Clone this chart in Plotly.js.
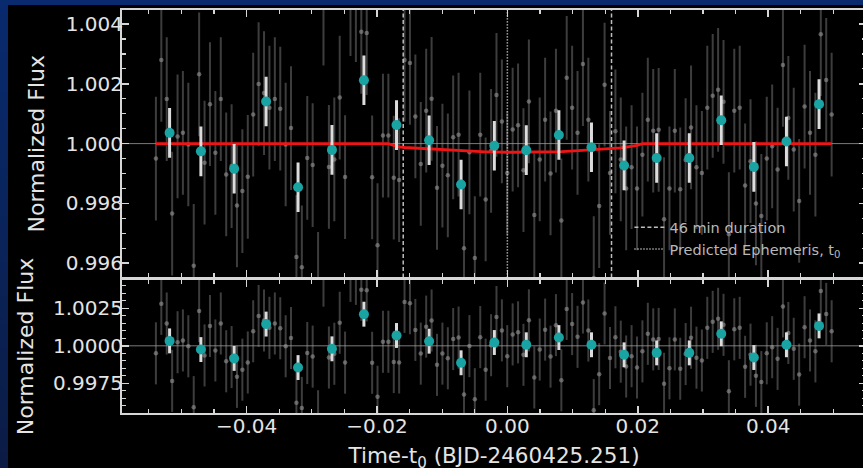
<!DOCTYPE html>
<html><head><meta charset="utf-8">
<script src="https://cdn.plot.ly/plotly-3.0.1.min.js"></script>
<style>
html,body{margin:0;padding:0;width:863px;height:468px;overflow:hidden;
background:linear-gradient(to bottom,#082a6e 0%,#0a2358 55%,#0b1b44 100%);}
#chart{position:absolute;left:8px;top:5px;width:862px;height:475px;}
</style></head><body><div id="chart"></div>
<script>
// Time - t0 (days) of each exposure
const time = [
-0.05390,-0.05307,-0.05224,-0.05141,-0.05058,-0.04976,-0.04893,-0.04810,-0.04727,-0.04644,
-0.04561,-0.04478,-0.04395,-0.04312,-0.04229,-0.04147,-0.04064,-0.03981,-0.03898,-0.03815,
-0.03732,-0.03649,-0.03566,-0.03483,-0.03400,-0.03318,-0.03235,-0.03152,-0.03069,-0.02986,
-0.02903,-0.02820,-0.02737,-0.02654,-0.02571,-0.02489,-0.02406,-0.02323,-0.02240,-0.02157,
-0.02074,-0.01991,-0.01908,-0.01825,-0.01742,-0.01660,-0.01577,-0.01494,-0.01411,-0.01328,
-0.01245,-0.01162,-0.01079,-0.00996,-0.00913,-0.00831,-0.00748,-0.00665,-0.00582,-0.00499,
-0.00416,-0.00333,-0.00250,-0.00167,-0.00084,-0.00002, 0.00081, 0.00164, 0.00247, 0.00330,
 0.00413, 0.00496, 0.00579, 0.00662, 0.00745, 0.00828, 0.00910, 0.00993, 0.01076, 0.01159,
 0.01242, 0.01325, 0.01408, 0.01491, 0.01574, 0.01657, 0.01739, 0.01822, 0.01905, 0.01988,
 0.02071, 0.02154, 0.02237, 0.02320, 0.02403, 0.02486, 0.02568, 0.02651, 0.02734, 0.02817,
 0.02900, 0.02983, 0.03066, 0.03149, 0.03232, 0.03315, 0.03397, 0.03480, 0.03563, 0.03646,
 0.03729, 0.03812, 0.03895, 0.03978, 0.04061, 0.04144, 0.04226, 0.04309, 0.04392, 0.04475,
 0.04558, 0.04641, 0.04724, 0.04807, 0.04890, 0.04973];
// unbinned normalized flux
const flux = [
0.99950,1.00280,1.00149,0.99766,1.00024,1.00036, 0.99997,0.99591,1.00232,0.99936,1.00132,0.99969,
1.00149,0.99897,0.99925,0.99793,0.99841,0.99889, 1.00097,1.00199,1.00169,1.00120,1.00149,1.00117,
0.99997,1.00052,0.99621,0.99586,0.99952,0.99928, 0.99497,1.00468,0.99922,0.99947,1.00154,0.99888,
1.00500,1.00480,1.00374,1.00370,0.99887,0.99660, 1.00027,1.00027,0.99886,0.99878,1.00280,1.00270,
1.00091,0.99932,1.00110,1.00150,0.99852,0.99926, 0.99894,1.00021,1.00030,0.99650,0.99971,0.99617,
1.00030,0.99813,0.99976,1.00163,1.00074,0.99902, 1.00047,1.00061,0.99911,1.00141,0.99761,0.99947,
1.00080,0.99900,1.00110,0.99743,1.00220,1.00120, 1.00036,1.00266,1.00080,0.99550,0.99791,1.00197,
0.99902,1.00041,0.99947,0.99850,0.99921,0.99850, 0.99963,1.00080,1.00043,1.00046,0.99747,0.99850,
1.00043,0.99847,0.99945,1.00054,0.99921,0.99902, 1.00120,1.00160,1.00180,1.00140,0.99697,1.00110,
1.00120,0.99860,0.99941,0.99800,0.99758,0.99950, 0.99991,0.99913,1.00263,1.00086,0.99980,0.99808,
1.00124,1.00036,0.99963,1.00366,1.00213,1.00097];
// transit model evaluated at each exposure
const model = [
1,1,1,1,1,1,1,1,1,1, 1,1,1,1,1,1,1,1,1,1, 1,1,1,1,1,1,1,1,1,1, 1,1,1,1,1,1,1,1,1,1,
1,1,1,1,0.99994,0.99989,0.99987,0.99986,0.99985,0.99984,
0.99982,0.99981,0.99979,0.99978,0.99977,0.99976,0.99975,0.99974,0.99973,0.99973,
0.99972,0.99972,0.99972,0.99971,0.99971,0.99971,0.99971,0.99971,0.99971,0.99971,
0.99972,0.99972,0.99972,0.99972,0.99972,0.99973,0.99974,0.99975,0.99976,0.99977,
0.99978,0.99979,0.99980,0.99981,0.99983,0.99984,0.99986,0.99988,0.99990,0.99994,
1,1,1,1,1,1,1,1,1,1, 1,1,1,1,1,1,1,1,1,1, 1,1,1,1,1,1,1,1,1,1, 1,1,1,1,1,1];
// binned (6 exposures) data
const binTime = [-0.0518,-0.0470,-0.0419,-0.0370,-0.0321,-0.0269,-0.0220,-0.0170,-0.0120,-0.0071,
 -0.0020,0.0029,0.0079,0.0129,0.0179,0.0229,0.0279,0.0328,0.0378,0.0428,0.0478];
const binFlux = [1.00036,0.99974,0.99916,1.00141,0.99854,0.99979,1.00212,1.00062,1.00011,0.99863,
 0.99993,0.99978,1.00029,0.99988,0.99927,0.99952,0.99952,1.00078,0.99922,1.00007,1.00132];
const binResid = [1.00033,0.99975,0.99916,1.00145,0.99855,0.99980,1.00211,1.00069,1.00031,0.99887,
 1.00022,1.00007,1.00055,1.00007,0.99940,0.99953,0.99953,1.00080,0.99922,1.00007,1.00133];
const rawErr = 0.00207;
const binErr = 0.00083;
const durationMin = 46;
const t0 = 0.0;
const baseline = 1.0;
const xTickVals = [-0.04,-0.02,0.00,0.02,0.04];

const resid = flux.map((f,i)=> f - model[i] + baseline);
const half = durationMin/1440/2;
const topRange = [0.99552, 1.00447];
const botRange = [0.99552, 1.00439];

const C = '#d6d6d6';
const rawMarker = {size:4.5, color:'rgba(150,150,150,0.6)'};
const rawEb = {type:'constant', value:rawErr, color:'rgba(160,160,160,0.38)', thickness:2, width:0};
const binMarker = {size:10, color:'#19a3a3'};
const binEb = {type:'constant', value:binErr, color:'#dcdcdc', thickness:3, width:0};

const traces = [
 {x:time, y:flux, xaxis:'x2', yaxis:'y2', type:'scatter', mode:'markers', marker:rawMarker, error_y:rawEb, showlegend:false, hoverinfo:'skip'},
 {x:[t0-half,t0-half,null,t0+half,t0+half], y:[topRange[0],topRange[1],null,topRange[0],topRange[1]],
  xaxis:'x2', yaxis:'y2', type:'scatter', mode:'lines', line:{color:'#bdbdbd', width:1.5, dash:'4px,2.5px'},
  name:'46 min duration', hoverinfo:'skip'},
 {x:[t0,t0], y:[topRange[0],topRange[1]], xaxis:'x2', yaxis:'y2', type:'scatter', mode:'lines',
  line:{color:'#c8c8c8', width:1.5, dash:'1.2px,1.8px'}, name:'Predicted Ephemeris, t<sub>0</sub>', hoverinfo:'skip'},
 {x:time, y:model, xaxis:'x2', yaxis:'y2', type:'scatter', mode:'lines', line:{color:'#f01414', width:2.8}, showlegend:false, hoverinfo:'skip'},
 {x:binTime, y:binFlux, xaxis:'x2', yaxis:'y2', type:'scatter', mode:'markers', marker:binMarker, error_y:binEb, showlegend:false},
 {x:time, y:resid, xaxis:'x', yaxis:'y', type:'scatter', mode:'markers', marker:rawMarker, error_y:rawEb, showlegend:false, hoverinfo:'skip'},
 {x:binTime, y:binResid, xaxis:'x', yaxis:'y', type:'scatter', mode:'markers', marker:binMarker, error_y:binEb, showlegend:false}
];

function ax(extra){
 return Object.assign({
  showline:true, linecolor:C, linewidth:2, mirror:'allticks',
  ticks:'inside', ticklen:7, tickwidth:1.6, tickcolor:C,
  showgrid:false, zeroline:false,
  tickfont:{family:'DejaVu Sans', size:20, color:'#e4e4e4'}
 }, extra);
}
const xMinor = {ticks:'inside', ticklen:4, tickwidth:1.2, tickcolor:C, dtick:0.005, tick0:0, showgrid:false};
const yMinor = {ticks:'inside', ticklen:4, tickwidth:1.2, tickcolor:C, dtick:0.0005, tick0:1, showgrid:false};
const titleFont = {family:'DejaVu Sans', size:22, color:'#e4e4e4'};

const layout = {
 width:862, height:475,
 margin:{l:114, r:4, t:5, b:67},
 paper_bgcolor:'#000', plot_bgcolor:'#000',
 font:{family:'DejaVu Sans', color:'#e4e4e4', size:20},
 showlegend:true,
 legend:{x:0.682, y:0.4337, xanchor:'left', yanchor:'middle', bgcolor:'rgba(0,0,0,0)',
   font:{family:'DejaVu Sans', size:14.5, color:'#b8b8b8'}, tracegroupgap:0},
 xaxis:ax({domain:[0,1], anchor:'y', range:[-0.0591,0.0550], tickvals:xTickVals, tickformat:'.2f', minor:xMinor,
   ticklabelstandoff:-6,
   title:{text:'Time-t<sub>0</sub> (BJD-2460425.251)', font:{family:'DejaVu Sans', size:21.5, color:'#e4e4e4'}, standoff:11}}),
 yaxis:ax({domain:[0,0.33002], anchor:'x', range:botRange, dtick:0.0025, tick0:1, tickformat:'.4f', minor:yMinor,
   ticklabelstandoff:-7,
   title:{text:'Normalized Flux', font:titleFont, standoff:13}}),
 xaxis2:ax({domain:[0,1], anchor:'y2', range:[-0.0591,0.0550], matches:'x', tickvals:xTickVals, showticklabels:false, minor:xMinor}),
 yaxis2:ax({domain:[0.33623,1], anchor:'x2', range:topRange, dtick:0.002, tick0:1, tickformat:'.3f', minor:yMinor,
   ticklabelstandoff:-7,
   title:{text:'Normalized Flux', font:titleFont, standoff:15}}),
 shapes:[
  {type:'line', xref:'x domain', x0:0, x1:1, yref:'y', y0:baseline, y1:baseline, layer:'below', line:{color:'#7a7a7a', width:1}},
  {type:'line', xref:'x2 domain', x0:0, x1:1, yref:'y2', y0:baseline, y1:baseline, layer:'below', line:{color:'#7a7a7a', width:1}}
 ]
};
Plotly.newPlot('chart', traces, layout, {displayModeBar:false, staticPlot:true});
</script></body></html>
